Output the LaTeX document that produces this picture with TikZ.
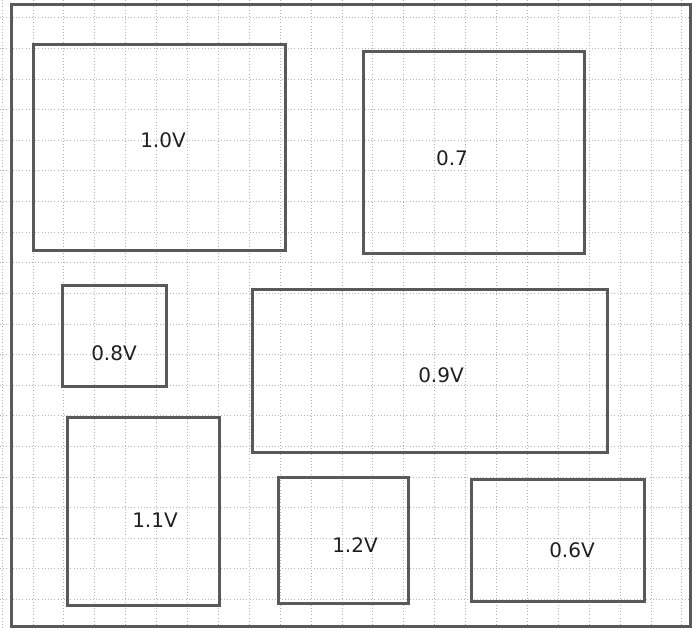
\documentclass[tikz,border=0pt]{standalone}
\usepackage{fontspec}
\setmainfont{DejaVu Sans}

\begin{document}
\begin{tikzpicture}[x=1pt,y=-1pt,font=\fontsize{20}{24}\selectfont,gridline/.style={draw=black!30,line width=1pt,dash pattern=on 1pt off 2.2pt},zone/.style={draw=black!65,line width=3pt,inner sep=0pt,outer sep=0pt},volt/.style={text=black!88,inner sep=0pt}]
\useasboundingbox (0,0) rectangle (693,628);
\foreach \gx in {0,...,22} \draw[gridline] (2.1+30.9*\gx,0) -- (2.1+30.9*\gx,628);
\foreach \gy in {0,...,19} \draw[gridline] (0,18+30.6*\gy) -- (693,18+30.6*\gy);
\node[zone,minimum width=679,minimum height=621] (board) at (350.5,315.5) {};
\node[zone,minimum width=252,minimum height=206] (v10) at (159,148) {};
\node[zone,minimum width=221,minimum height=202] (v07) at (473.5,153) {};
\node[zone,minimum width=104,minimum height=101] (v08) at (114,335.5) {};
\node[zone,minimum width=355,minimum height=163] (v09) at (429.5,370.5) {};
\node[zone,minimum width=152,minimum height=188] (v11) at (143,511) {};
\node[zone,minimum width=130,minimum height=126] (v12) at (343,540) {};
\node[zone,minimum width=173,minimum height=122] (v06) at (557.5,540) {};
\node[volt] (l10) at (163,140) {1.0V};
\node[volt] (l07) at (452,158) {0.7};
\node[volt] (l08) at (114,353) {0.8V};
\node[volt] (l09) at (441,375) {0.9V};
\node[volt] (l11) at (155,520) {1.1V};
\node[volt] (l12) at (355,545) {1.2V};
\node[volt] (l06) at (572,550) {0.6V};
\end{tikzpicture}
\end{document}
